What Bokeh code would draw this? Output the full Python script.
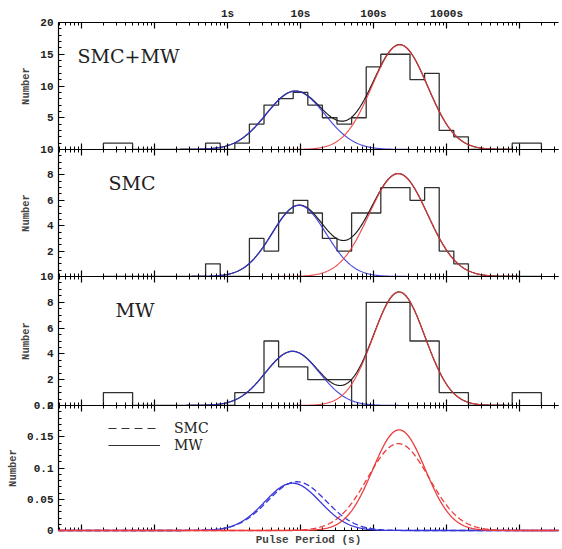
import numpy as np
from bokeh.plotting import figure
from bokeh.layouts import column
from bokeh.models import (FixedTicker, LogAxis, LinearAxis, Range1d, Legend,
                          LegendItem, Label)
from bokeh.embed import file_html
from bokeh.resources import INLINE

# ---------------- data ----------------
# histogram bins: lower edges in log10(P / s), each bin 0.2 dex wide
bin_lo_log = [-1.7, -1.5, -1.3, -1.1, -0.9, -0.7, -0.5, -0.3, -0.1, 0.1,
              0.3, 0.5, 0.7, 0.9, 1.1, 1.3, 1.5, 1.7, 1.9, 2.1,
              2.3, 2.5, 2.7, 2.9, 3.1, 3.3, 3.5, 3.7, 3.9, 4.1]
bin_width_log = 0.2
smc_counts = [0, 0, 0, 0, 0, 0, 0, 1, 0, 0,
              3, 2, 5, 6, 5, 3, 2, 5, 5, 7,
              7, 6, 7, 2, 1, 0, 0, 0, 0, 0]
mw_counts = [1, 1, 0, 0, 0, 0, 0, 0, 0, 1,
             1, 5, 3, 3, 2, 2, 2, 0, 8, 8,
             8, 5, 5, 1, 1, 0, 0, 0, 1, 1]
all_counts = [a + b for a, b in zip(smc_counts, mw_counts)]

# Gaussian fits in log10(P): panels SMC+MW, SMC, MW
panel_names = ["SMC+MW", "SMC", "MW"]
fast_centre_log = [0.93, 0.98, 0.89]
fast_sigma_log = [0.40, 0.37, 0.37]
fast_peak = [9.2, 5.6, 4.2]
slow_centre_log = [2.36, 2.34, 2.35]
slow_sigma_log = [0.38, 0.40, 0.355]
slow_peak = [16.5, 8.1, 8.8]

# normalised fits (bottom panel): SMC (dashed), MW (solid)
norm_names = ["SMC", "MW"]
norm_fast_centre = [0.95, 0.89]
norm_fast_sigma = [0.40, 0.38]
norm_fast_peak = [0.078, 0.0757]
norm_slow_centre = [2.34, 2.35]
norm_slow_sigma = [0.42, 0.36]
norm_slow_peak = [0.139, 0.161]

top_tick_labels = {1: "1s", 10: "10s", 100: "100s", 1000: "1000s"}

# ---------------- styling ----------------
LOG_MIN, LOG_MAX = -2.315, 4.534
X_RANGE = (10 ** LOG_MIN, 10 ** LOG_MAX)
BL, BR = 58, 2
W = BL + 500 + BR
B = 8
BLUE = "#3535dc"
RED = "#ec3b3b"
HIST = "#303030"
MONO = "Liberation Mono"
SERIF = "DejaVu Serif"

grid_log = np.linspace(LOG_MIN, LOG_MAX, 800)
grid_x = 10 ** grid_log

x_major = [10.0 ** e for e in range(-2, 5)]
x_minor = [k * 10.0 ** e for e in range(-3, 5) for k in range(2, 10)
           if X_RANGE[0] <= k * 10.0 ** e <= X_RANGE[1]]


def gauss(c, s, a):
    return a * np.exp(-0.5 * ((grid_log - c) / s) ** 2)


def hist_xy(counts):
    edges = list(bin_lo_log) + [bin_lo_log[-1] + bin_width_log]
    xs = [10 ** edges[0]] + [10 ** e for e in edges]
    ys = [0] + list(counts) + [0]
    return xs, ys


def style_axis(ax, ticks, minor, labels=None, show_labels=True):
    ax.ticker = FixedTicker(ticks=ticks, minor_ticks=minor)
    ax.major_tick_in = 6
    ax.major_tick_out = 0
    ax.minor_tick_in = 3
    ax.minor_tick_out = 0
    ax.axis_line_color = "black"
    ax.major_tick_line_color = "black"
    ax.minor_tick_line_color = "black"
    ax.axis_line_width = 1.2
    ax.major_tick_line_width = 1.2
    ax.minor_tick_line_width = 1
    ax.major_label_text_font = MONO
    ax.major_label_text_font_style = "bold"
    ax.major_label_text_color = "#222222"
    if labels is not None:
        ax.major_label_overrides = labels
    if show_labels:
        ax.major_label_text_font_size = "11px"
    else:
        ax.major_label_text_font_size = "0px"
        ax.major_label_standoff = 0


def make_panel(frame_h, ymax, yticks, yminor, ylabels, btop, bbottom,
               top_labels=False, xlabel=None):
    p = figure(width=W, height=btop + frame_h + bbottom,
               x_axis_type="log", x_range=Range1d(*X_RANGE),
               y_range=Range1d(0, ymax),
               x_axis_location=None, y_axis_location=None,
               output_backend="svg", toolbar_location=None,
               min_border_left=BL, min_border_right=BR,
               min_border_top=btop, min_border_bottom=bbottom)
    p.outline_line_color = None
    p.background_fill_alpha = 0
    p.border_fill_alpha = 0
    p.xgrid.grid_line_color = None
    p.ygrid.grid_line_color = None

    bottom = LogAxis()
    style_axis(bottom, x_major, x_minor, {t: "" for t in x_major},
               show_labels=False)
    if xlabel:
        bottom.axis_label = xlabel
        bottom.axis_label_text_font = MONO
        bottom.axis_label_text_font_style = "bold"
        bottom.axis_label_text_font_size = "11px"
        bottom.axis_label_standoff = 3
    p.add_layout(bottom, "below")

    top = LogAxis()
    if top_labels:
        lab = {t: top_tick_labels.get(int(round(t)) if t >= 1 else -1, "")
               for t in x_major}
        style_axis(top, x_major, x_minor, lab, show_labels=True)
        top.major_label_standoff = 3
    else:
        style_axis(top, x_major, x_minor, {t: "" for t in x_major},
                   show_labels=False)
    p.add_layout(top, "above")

    left = LinearAxis(axis_label="Number")
    style_axis(left, yticks, yminor, ylabels, show_labels=True)
    left.major_label_standoff = 5
    left.axis_label_standoff = 5
    left.axis_label_text_font = MONO
    left.axis_label_text_font_style = "bold"
    left.axis_label_text_font_size = "10.5px"
    p.add_layout(left, "left")
    return p


panels = []
specs = [
    # frame_h, ymax, yticks, yminor, labels, btop, bbottom
    (127, 20, [0, 5, 10, 15, 20], list(range(0, 21)),
     {0: "", 5: "5", 10: "10", 15: "15", 20: "20"}, 22, B),
    (127, 10, [0, 2, 4, 6, 8, 10], [i * 0.5 for i in range(0, 21)],
     {0: "", 2: "2", 4: "4", 6: "6", 8: "8", 10: "10"}, B, B),
    (129, 10, [0, 2, 4, 6, 8, 10], [i * 0.5 for i in range(0, 21)],
     {0: "0", 2: "2", 4: "4", 6: "6", 8: "8", 10: "10"}, B, B),
]
label_x = [19, 50, 57]

for i, (fh, ymax, yt, ym, yl, bt, bb) in enumerate(specs):
    p = make_panel(fh, ymax, yt, ym, yl, bt, bb, top_labels=(i == 0))
    counts = [all_counts, smc_counts, mw_counts][i]
    hx, hy = hist_xy(counts)
    p.step(hx, hy, mode="after", line_color=HIST, line_width=1.3)
    gf = gauss(fast_centre_log[i], fast_sigma_log[i], fast_peak[i])
    gs = gauss(slow_centre_log[i], slow_sigma_log[i], slow_peak[i])
    p.line(grid_x, gf + gs, line_color="#1a1a1a", line_width=1.2)
    p.line(grid_x, gf, line_color=BLUE, line_width=1.2, line_alpha=0.9)
    p.line(grid_x, gs, line_color=RED, line_width=1.2, line_alpha=0.9)
    p.add_layout(Label(x=label_x[i], y=fh - 33, x_units="screen",
                       y_units="screen", text=panel_names[i],
                       text_font=SERIF, text_font_size="19px",
                       text_color="#222222", text_baseline="alphabetic"))
    if i > 0:
        p.margin = (-2 * B, 0, 0, 0)
    panels.append(p)

# bottom panel: normalised fits
FH4 = 125
p4 = make_panel(FH4, 0.2, [0, 0.05, 0.1, 0.15, 0.2],
                [i * 0.01 for i in range(0, 21)],
                {0: "0", 0.05: "0.05", 0.1: "0.1", 0.15: "0.15", 0.2: "0.2"},
                B, 19, xlabel="Pulse Period (s)")
p4.margin = (-2 * B, 0, 0, 0)
dashes = ["6 3", "solid"]
for j in range(2):
    p4.line(grid_x, gauss(norm_fast_centre[j], norm_fast_sigma[j], norm_fast_peak[j]),
            line_color=BLUE, line_width=1.3, line_dash=dashes[j], level="overlay")
for j in range(2):
    p4.line(grid_x, gauss(norm_slow_centre[j], norm_slow_sigma[j], norm_slow_peak[j]),
            line_color=RED, line_width=1.3, line_dash=dashes[j], level="overlay")

# legend keys (no visible data, only used for the legend swatches)
nan_y = [np.nan, np.nan]
key_x = [X_RANGE[0], X_RANGE[0]]
r_dash = p4.line(key_x, nan_y, line_color="#333333", line_width=1.2, line_dash="8 5")
r_solid = p4.line(key_x, nan_y, line_color="#333333", line_width=1.2)
item_h = 16
for name, rend, centre in [(norm_names[0], r_dash, 23), (norm_names[1], r_solid, 40)]:
    lg = Legend(items=[LegendItem(label=name, renderers=[rend])],
                location=(50, FH4 - centre - item_h // 2),
                glyph_width=52, glyph_height=item_h, label_height=item_h,
                spacing=0, padding=0, margin=0,
                border_line_color=None, background_fill_alpha=0,
                label_standoff=14, label_text_font=SERIF,
                label_text_font_size="14px", label_text_color="#222222")
    p4.add_layout(lg)
panels.append(p4)

layout = column(*panels, spacing=0)
open("out.html", "w").write(file_html(layout, INLINE))
